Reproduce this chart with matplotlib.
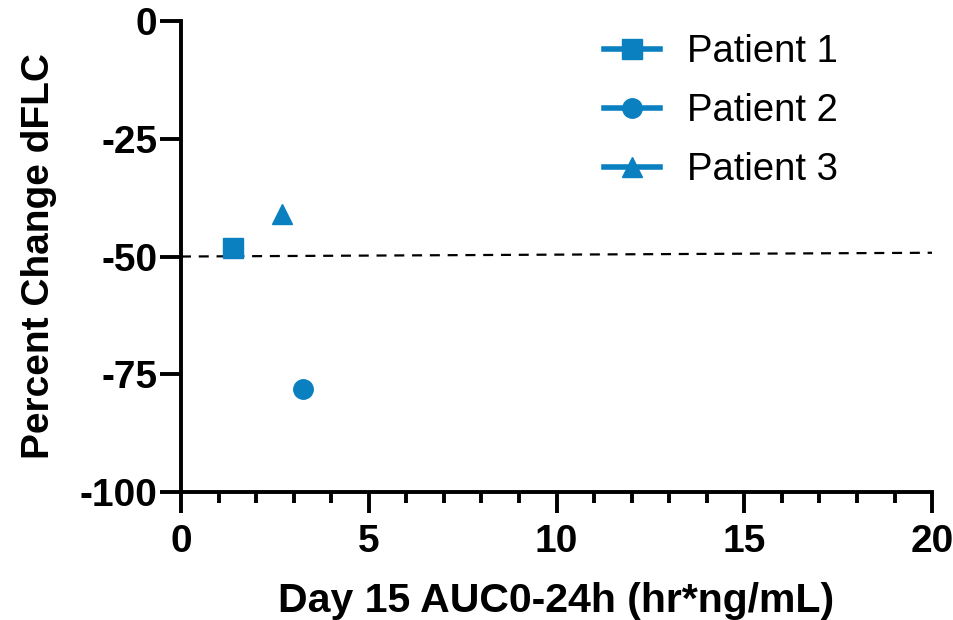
import matplotlib.pyplot as plt
from matplotlib.ticker import MultipleLocator

plt.rcParams['font.family'] = ['Liberation Sans', 'DejaVu Sans']
plt.rcParams['axes.unicode_minus'] = False

# data
patients = ['Patient 1', 'Patient 2', 'Patient 3']
auc = [1.38, 3.25, 2.69]
pct_change = [-48.2, -78.1, -41.0]
markers = ['s', 'o', '^']
ref_x = [0, 20]
ref_y = [-50, -49.2]

color = '#0a80c0'

fig = plt.figure(figsize=(9.54, 6.2), dpi=100)
ax = fig.add_axes([0.1897, 0.2065, 0.7873, 0.7595])

ax.plot(ref_x, ref_y, color='black', lw=1.6, ls=(0, (4.5, 3.5)), zorder=1)
for name, x, y, m in zip(patients, auc, pct_change, markers):
    ax.plot([x], [y], marker=m, color=color, ms=14, lw=4,
            ls='-', label=name, clip_on=False, zorder=3)

ax.set_xlim(0, 20)
ax.set_ylim(-100, 0)
ax.xaxis.set_major_locator(MultipleLocator(5))
ax.xaxis.set_minor_locator(MultipleLocator(1))
ax.yaxis.set_major_locator(MultipleLocator(25))

for s in ['top', 'right']:
    ax.spines[s].set_visible(False)
for s in ['left', 'bottom']:
    ax.spines[s].set_linewidth(2.8)

ax.tick_params(which='major', length=15, width=2.8, labelsize=28, pad=2)
ax.tick_params(axis='x', which='major', pad=8)
ax.tick_params(which='minor', length=8, width=2.8)
ax.tick_params(axis='y', which='minor', left=False)
for lab in ax.get_xticklabels() + ax.get_yticklabels():
    lab.set_fontweight('bold')

ax.set_xlabel('Day 15 AUC0-24h (hr*ng/mL)', fontsize=29.5, fontweight='bold', labelpad=16)
ax.set_ylabel('Percent Change dFLC', fontsize=28, fontweight='bold', labelpad=16)

leg = ax.legend(loc='upper left', bbox_to_anchor=(0.518, 1.045), frameon=False,
                fontsize=27.5, handlelength=1.45, handletextpad=0.7, labelspacing=0.6)

fig.savefig('out.png', dpi=100)
